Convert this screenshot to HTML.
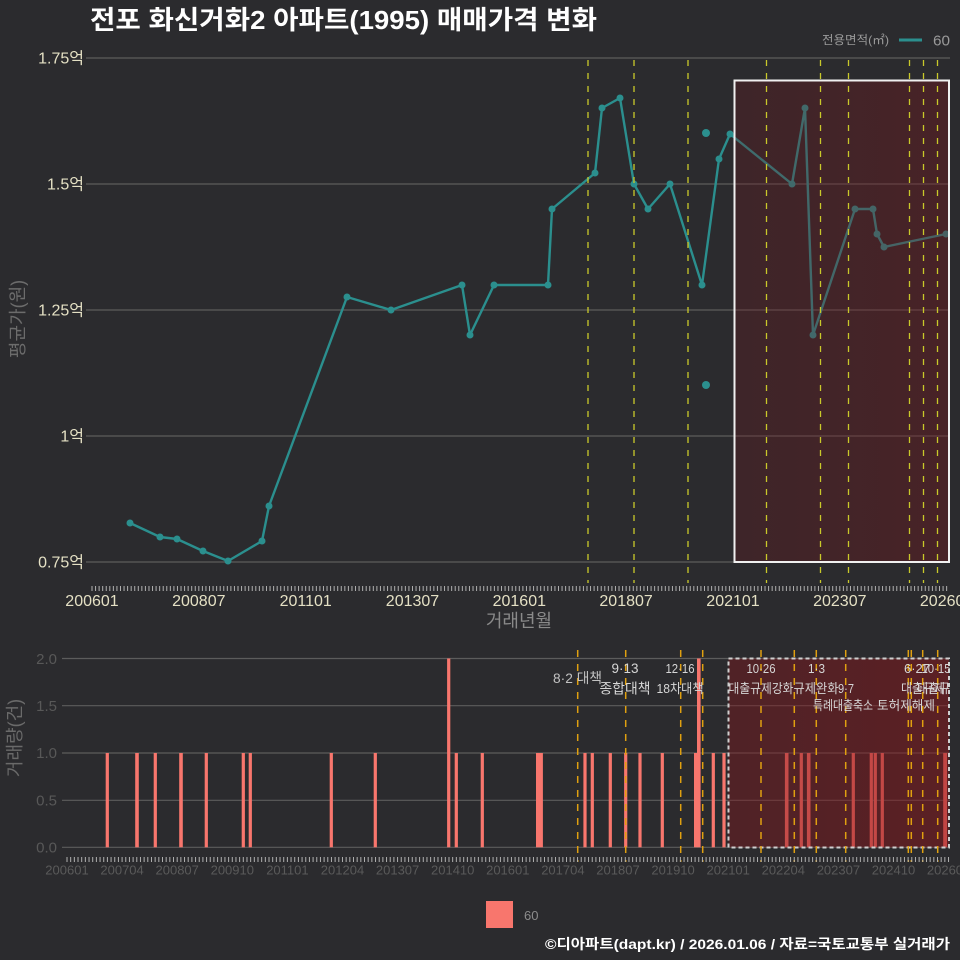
<!DOCTYPE html>
<html><head><meta charset="utf-8"><style>
html,body{margin:0;padding:0;background:#2b2b2e;}
svg{display:block;font-family:"Liberation Sans","Noto Sans CJK KR",sans-serif;}
</style></head><body>
<svg width="960" height="960" viewBox="0 0 960 960" xmlns="http://www.w3.org/2000/svg">
<defs>
<linearGradient id="gt" x1="0" x2="1" y1="0" y2="0"><stop offset="0" stop-color="rgb(110,22,28)" stop-opacity="0.28"/><stop offset="1" stop-color="rgb(120,20,26)" stop-opacity="0.38"/></linearGradient>
<linearGradient id="gb" x1="0" x2="1" y1="0" y2="0"><stop offset="0" stop-color="rgb(130,22,28)" stop-opacity="0.42"/><stop offset="1" stop-color="rgb(140,20,25)" stop-opacity="0.5"/></linearGradient>
<clipPath id="cb"><rect x="40" y="640" width="910" height="240"/></clipPath>
</defs>
<rect width="960" height="960" fill="#2b2b2e"/>
<!-- Title -->
<text x="90" y="29" font-size="26" font-weight="bold" fill="#ffffff" textLength="507" lengthAdjust="spacingAndGlyphs">전포 화신거화2 아파트(1995) 매매가격 변화</text>
<!-- Legend top -->
<text x="822" y="44" font-size="12" fill="#9a9a9a" textLength="67" lengthAdjust="spacingAndGlyphs">전용면적(㎡)</text>
<line x1="899" y1="40" x2="922" y2="40" stroke="#2b8f8e" stroke-width="3"/>
<text x="933" y="45.5" font-size="15" fill="#9a9a9a" textLength="17" lengthAdjust="spacingAndGlyphs">60</text>

<!-- Top grid -->
<g stroke="#5c5c5c" stroke-width="1.2">
<line x1="86" y1="58" x2="950" y2="58"/>
<line x1="86" y1="184" x2="950" y2="184"/>
<line x1="86" y1="310" x2="950" y2="310"/>
<line x1="86" y1="436" x2="950" y2="436"/>
<line x1="86" y1="562" x2="950" y2="562"/>
</g>
<g font-size="16" fill="#e4e0c4" text-anchor="end">
<text x="84" y="63.5">1.75억</text>
<text x="84" y="189.5">1.5억</text>
<text x="84" y="315.5">1.25억</text>
<text x="84" y="441.5">1억</text>
<text x="84" y="567.5">0.75억</text>
</g>
<text transform="translate(24,319) rotate(-90)" font-size="18" fill="#6c6c6c" text-anchor="middle">평균가(원)</text>

<!-- Top series -->
<g fill="#2b8f8e">
<path d="M130,523 L160,537 L177,539 L203,551 L228,561 L262,541 L269,506 L347,297 L391,310 L462,285 L470,335 L494,285 L548,285 L552,209 L595,173 L602,108 L620,98 L634,184 L648,209 L670,184 L702,285 L719,159 L730,134 L792,184 L805,108 L813,335 L855,209 L873,209 L877,234 L884,247 L946,234" fill="none" stroke="#2b8f8e" stroke-width="2.4" stroke-linejoin="round"/>
<circle cx="130" cy="523" r="3.5"/><circle cx="160" cy="537" r="3.5"/><circle cx="177" cy="539" r="3.5"/><circle cx="203" cy="551" r="3.5"/><circle cx="228" cy="561" r="3.5"/><circle cx="262" cy="541" r="3.5"/><circle cx="269" cy="506" r="3.5"/><circle cx="347" cy="297" r="3.5"/><circle cx="391" cy="310" r="3.5"/><circle cx="462" cy="285" r="3.5"/><circle cx="470" cy="335" r="3.5"/><circle cx="494" cy="285" r="3.5"/><circle cx="548" cy="285" r="3.5"/><circle cx="552" cy="209" r="3.5"/><circle cx="595" cy="173" r="3.5"/><circle cx="602" cy="108" r="3.5"/><circle cx="620" cy="98" r="3.5"/><circle cx="634" cy="184" r="3.5"/><circle cx="648" cy="209" r="3.5"/><circle cx="670" cy="184" r="3.5"/><circle cx="702" cy="285" r="3.5"/><circle cx="719" cy="159" r="3.5"/><circle cx="730" cy="134" r="3.5"/><circle cx="792" cy="184" r="3.5"/><circle cx="805" cy="108" r="3.5"/><circle cx="813" cy="335" r="3.5"/><circle cx="855" cy="209" r="3.5"/><circle cx="873" cy="209" r="3.5"/><circle cx="877" cy="234" r="3.5"/><circle cx="884" cy="247" r="3.5"/><circle cx="946" cy="234" r="3.5"/>
<circle cx="706" cy="133" r="4"/><circle cx="706" cy="385" r="4"/>
</g>
<!-- Top shaded rect -->
<rect x="734.5" y="80.5" width="214.5" height="481.5" fill="url(#gt)" stroke="#f0f0f0" stroke-width="2"/>
<!-- Top dashed event lines -->
<g stroke="#c9c92a" stroke-width="1.3" stroke-dasharray="6 7">
<line x1="588" y1="60" x2="588" y2="583"/>
<line x1="634" y1="60" x2="634" y2="583"/>
<line x1="688" y1="60" x2="688" y2="583"/>
<line x1="766.5" y1="60" x2="766.5" y2="583"/>
<line x1="820.5" y1="60" x2="820.5" y2="583"/>
<line x1="848.5" y1="60" x2="848.5" y2="583"/>
<line x1="909.5" y1="60" x2="909.5" y2="583"/>
<line x1="923.5" y1="60" x2="923.5" y2="583"/>
<line x1="937.5" y1="60" x2="937.5" y2="583"/>
</g>
<!-- Top x ticks -->
<line x1="91.5" y1="588.5" x2="948" y2="588.5" stroke="#b0b0b0" stroke-width="5" stroke-dasharray="1 2.561"/>
<g font-size="16" fill="#e4e0c4" text-anchor="middle">
<text x="92" y="606">200601</text>
<text x="198.8" y="606">200807</text>
<text x="305.7" y="606">201101</text>
<text x="412.5" y="606">201307</text>
<text x="519.3" y="606">201601</text>
<text x="626.1" y="606">201807</text>
<text x="733" y="606">202101</text>
<text x="839.8" y="606">202307</text>
<text x="946.6" y="606">202601</text>
</g>
<text x="519" y="627" font-size="18" fill="#8a8a8a" text-anchor="middle">거래년월</text>

<!-- Bottom chart -->
<g stroke="#5c5c5c" stroke-width="1.2">
<line x1="62" y1="658.5" x2="950" y2="658.5"/>
<line x1="62" y1="705.7" x2="950" y2="705.7"/>
<line x1="62" y1="753" x2="950" y2="753"/>
<line x1="62" y1="800.3" x2="950" y2="800.3"/>
<line x1="62" y1="847.3" x2="950" y2="847.3"/>
</g>
<g font-size="15" fill="#585858" text-anchor="end">
<text x="57" y="664">2.0</text>
<text x="57" y="711">1.5</text>
<text x="57" y="758">1.0</text>
<text x="57" y="805.5">0.5</text>
<text x="57" y="852.5">0.0</text>
</g>
<text transform="translate(21,738) rotate(-90)" font-size="18" fill="#6a6a6a" text-anchor="middle">거래량(건)</text>

<g fill="#f8766d">
<rect x="105.7" y="753" width="3.2" height="94.3"/>
<rect x="135.2" y="753" width="3.6" height="94.3"/>
<rect x="153.7" y="753" width="3.2" height="94.3"/>
<rect x="179.2" y="753" width="3.6" height="94.3"/>
<rect x="204.7" y="753" width="3.2" height="94.3"/>
<rect x="241.7" y="753" width="3.2" height="94.3"/>
<rect x="248.7" y="753" width="3.2" height="94.3"/>
<rect x="329.7" y="753" width="3.2" height="94.3"/>
<rect x="373.7" y="753" width="3.2" height="94.3"/>
<rect x="447.1" y="658.5" width="3.2" height="188.8"/>
<rect x="454.7" y="753" width="3.2" height="94.3"/>
<rect x="480.7" y="753" width="3.2" height="94.3"/>
<rect x="536" y="753" width="3.5" height="94.3"/>
<rect x="539.4" y="753" width="3.5" height="94.3"/>
<rect x="583.4" y="753" width="3.2" height="94.3"/>
<rect x="590.7" y="753" width="3.2" height="94.3"/>
<rect x="608.7" y="753" width="3.2" height="94.3"/>
<rect x="624.1" y="753" width="3.2" height="94.3"/>
<rect x="638.4" y="753" width="3.2" height="94.3"/>
<rect x="660.7" y="753" width="3.2" height="94.3"/>
<rect x="694" y="753" width="3.2" height="94.3"/>
<rect x="697" y="658.5" width="3.6" height="188.8"/>
<rect x="711.7" y="753" width="3.2" height="94.3"/>
<rect x="722.4" y="753" width="3.2" height="94.3"/>
<rect x="784.9" y="753" width="3.6" height="94.3"/>
<rect x="799.7" y="753" width="3.2" height="94.3"/>
<rect x="806.9" y="753" width="3.6" height="94.3"/>
<rect x="851.7" y="753" width="3.2" height="94.3"/>
<rect x="869.7" y="753" width="3.2" height="94.3"/>
<rect x="873.7" y="753" width="3.2" height="94.3"/>
<rect x="880.7" y="753" width="3.2" height="94.3"/>
<rect x="943.2" y="753" width="3.8" height="94.3"/>
</g>
<!-- Bottom shaded rect -->
<rect x="728.5" y="658.5" width="220.5" height="189" fill="url(#gb)" stroke="#cfcfcf" stroke-width="2" stroke-dasharray="4 3"/>
<!-- Bottom dashed event lines -->
<g stroke="#e0a010" stroke-width="1.5" stroke-dasharray="7 7">
<line x1="577.7" y1="650" x2="577.7" y2="862"/>
<line x1="625.7" y1="650" x2="625.7" y2="862"/>
<line x1="680.7" y1="650" x2="680.7" y2="862"/>
<line x1="702.7" y1="650" x2="702.7" y2="862"/>
<line x1="761" y1="650" x2="761" y2="862"/>
<line x1="794.3" y1="650" x2="794.3" y2="862"/>
<line x1="816.3" y1="650" x2="816.3" y2="862"/>
<line x1="845.7" y1="650" x2="845.7" y2="862"/>
<line x1="908.3" y1="650" x2="908.3" y2="862"/>
<line x1="911.3" y1="650" x2="911.3" y2="862"/>
<line x1="922.7" y1="650" x2="922.7" y2="862"/>
<line x1="937.7" y1="650" x2="937.7" y2="862"/>
</g>
<!-- Bottom labels -->
<g clip-path="url(#cb)" fill="#d6d6d6" text-anchor="middle" font-size="13">
<text x="577.5" y="683" font-size="14" fill="#c2c2c2" textLength="49" lengthAdjust="spacingAndGlyphs">8·2 대책</text>
<text x="625" y="673" font-size="14" textLength="27" lengthAdjust="spacingAndGlyphs">9·13</text>
<text x="625" y="693.5" font-size="14" textLength="51" lengthAdjust="spacingAndGlyphs">종합대책</text>
<text x="680" y="673" textLength="29" lengthAdjust="spacingAndGlyphs">12·16</text>
<text x="680" y="693" textLength="47" lengthAdjust="spacingAndGlyphs">18차대책</text>
<text x="761" y="673" textLength="29" lengthAdjust="spacingAndGlyphs">10·26</text>
<text x="761" y="693" textLength="65" lengthAdjust="spacingAndGlyphs">대출규제강화</text>
<text x="816.5" y="673" textLength="17" lengthAdjust="spacingAndGlyphs">1·3</text>
<text x="816" y="693" textLength="45" lengthAdjust="spacingAndGlyphs">규제완화</text>
<text x="846" y="693" textLength="16" lengthAdjust="spacingAndGlyphs">9·7</text>
<text x="843" y="710" textLength="60" lengthAdjust="spacingAndGlyphs">특례대출축소</text>
<text x="906" y="710" textLength="58" lengthAdjust="spacingAndGlyphs">토허제해제</text>
<text x="917" y="673" textLength="26" lengthAdjust="spacingAndGlyphs">6·27</text>
<text x="936" y="673" textLength="29" lengthAdjust="spacingAndGlyphs">10·15</text>
<text x="923" y="693" textLength="44" lengthAdjust="spacingAndGlyphs">대출규제</text>
<text x="939" y="693" textLength="44" lengthAdjust="spacingAndGlyphs">대출규제</text>
</g>
<!-- Bottom x ticks -->
<line x1="66.5" y1="859.5" x2="950" y2="859.5" stroke="#b0b0b0" stroke-width="5" stroke-dasharray="1 2.673"/>
<g font-size="13" fill="#5a5a5a" text-anchor="middle">
<text x="67" y="874.5">200601</text>
<text x="122.1" y="874.5">200704</text>
<text x="177.2" y="874.5">200807</text>
<text x="232.3" y="874.5">200910</text>
<text x="287.4" y="874.5">201101</text>
<text x="342.5" y="874.5">201204</text>
<text x="397.6" y="874.5">201307</text>
<text x="452.7" y="874.5">201410</text>
<text x="507.8" y="874.5">201601</text>
<text x="562.9" y="874.5">201704</text>
<text x="618" y="874.5">201807</text>
<text x="673.1" y="874.5">201910</text>
<text x="728.2" y="874.5">202101</text>
<text x="783.3" y="874.5">202204</text>
<text x="838.4" y="874.5">202307</text>
<text x="893.5" y="874.5">202410</text>
<text x="948.6" y="874.5">202601</text>
</g>

<!-- Bottom legend -->
<rect x="486" y="901" width="27" height="27" fill="#f8766d"/>
<text x="524" y="920" font-size="13" fill="#8c8c8c">60</text>

<!-- Footer -->
<text x="545" y="949" font-size="14" font-weight="bold" fill="#ffffff" textLength="405" lengthAdjust="spacingAndGlyphs">©디아파트(dapt.kr) / 2026.01.06 / 자료=국토교통부 실거래가</text>
</svg>
</body></html>
